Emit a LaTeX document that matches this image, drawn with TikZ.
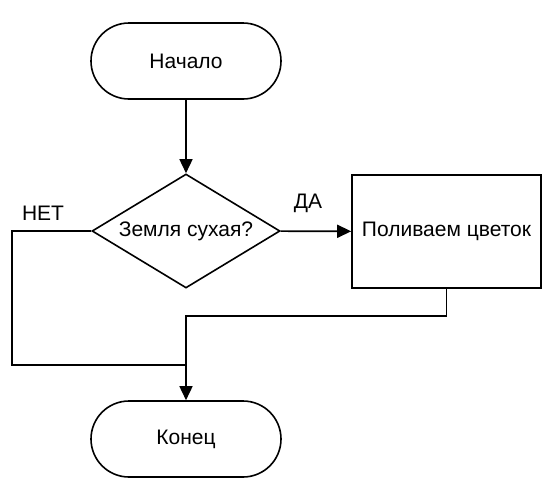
\documentclass[tikz,border=0pt]{standalone}
\usepackage{fontspec}
\setmainfont{Liberation Sans}
\usetikzlibrary{shapes.geometric,arrows.meta}
\begin{document}
\begin{tikzpicture}[x=1pt,y=-1pt, line width=1.6pt,
  font=\fontsize{21}{25}\selectfont,
  term/.style={draw, rounded corners=38pt, minimum width=190pt, minimum height=76pt, inner sep=0pt},
  dec/.style={draw, diamond, aspect=1.65, minimum width=188pt, minimum height=114pt, inner sep=0pt},
  proc/.style={draw, minimum width=189pt, minimum height=113pt, inner sep=0pt},
  lbl/.style={inner sep=0pt},
  arr/.style={-{Triangle[length=14pt,width=13pt]}}]
\useasboundingbox (0,0) rectangle (558,496);
\fill[white] (0,0) rectangle (558,496);
\node[term] (start) at (186,61) {Начало};
\node[dec] (cond) at (186,231) {Земля сухая?};
\node[proc] (act) at (446.5,231.5) {Поливаем цветок};
\node[term] (end) at (186,439) {Конец};
\node[lbl] (yes) at (308,203) {ДА};
\node[lbl] (no) at (43,213) {НЕТ};
\coordinate (nb) at (12,365);
\coordinate (nm) at (186,365);
\coordinate (j2) at (186,316);
\draw[arr] (start) -- (cond);
\draw[arr] (cond) -- (act);
\draw (cond.west) -| (nb) -- (nm);
\draw[arr] (act.south) |- (j2) -- (end.north);
\end{tikzpicture}
\end{document}
